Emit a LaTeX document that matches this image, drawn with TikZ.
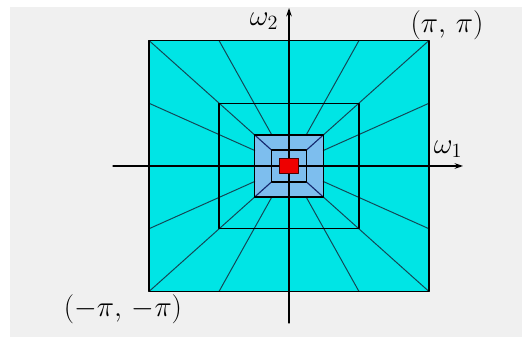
\documentclass[tikz,border=0pt]{standalone}
\usetikzlibrary{arrows.meta}
\definecolor{bandcyan}{RGB}{0,229,229}
\definecolor{bandblue}{RGB}{125,190,238}
\definecolor{bandred}{RGB}{238,0,0}
\definecolor{radial}{RGB}{20,70,85}
\definecolor{inner}{RGB}{20,40,110}
\definecolor{bggray}{RGB}{240,240,240}

\begin{document}
\begin{tikzpicture}[x=0.25mm, y=0.25mm, line join=round, line cap=round, line width=0.6pt,
		font=\fontsize{20}{24}\selectfont]
		\useasboundingbox (-289,-171) rectangle (233,166);
		\fill[bggray] (-279,-171) rectangle (233,159);
		\begin{scope}[xscale=140, yscale=125.5]
		\fill[bandcyan] (-1,-1) rectangle (1,1);
		\fill[bandblue] (-0.245,-0.247) rectangle (0.245,0.247);
		% directional lines of the outer bands
		\foreach \u/\v in {1/1, 0.5/1, 1/0.5, -1/1, -0.5/1, -1/0.5, 1/-1, 0.5/-1, 1/-0.5, -1/-1, -0.5/-1, -1/-0.5}
		\draw[radial, line width=0.7pt] (\u,\v) -- (0.245*\u,0.247*\v);
		\foreach \u/\v in {1/1, -1/1, 1/-1, -1/-1}
		\draw[inner, line width=0.8pt] (0.245*\u,0.247*\v) -- (0.125*\u,0.127*\v);
		\draw[line width=1.4pt] (-1,-1) rectangle (1,1);
		\draw[line width=1pt] (-0.5,-0.5) rectangle (0.5,0.5);
		\draw[line width=1pt] (-0.245,-0.247) rectangle (0.245,0.247);
		\draw[line width=1pt] (-0.125,-0.127) rectangle (0.125,0.127);
		\end{scope}
		\coordinate (xa) at (-176,0);
		\coordinate (xb) at (174,0);
		\coordinate (ya) at (0,-157);
		\coordinate (yb) at (0,158);
		\draw[line width=0.8pt, -{Stealth[length=6pt, width=4pt]}] (xa) -- (xb);
		\draw[line width=0.8pt, -{Stealth[length=6pt, width=4pt]}] (ya) -- (yb);
		\fill[bandred, draw=black!70!red, line width=1pt] (-9.5,-7.5) rectangle (9.5,7.5);
		\node (w1) at (159,17) {$\omega_1$};
		\node (w2) at (-25,145) {$\omega_2$};
		\node (pp) at (158,141) {$(\pi,\,\pi)$};
		\node (mm) at (-166,-143) {$(-\pi,\,-\pi)$};
	\end{tikzpicture}
\end{document}
